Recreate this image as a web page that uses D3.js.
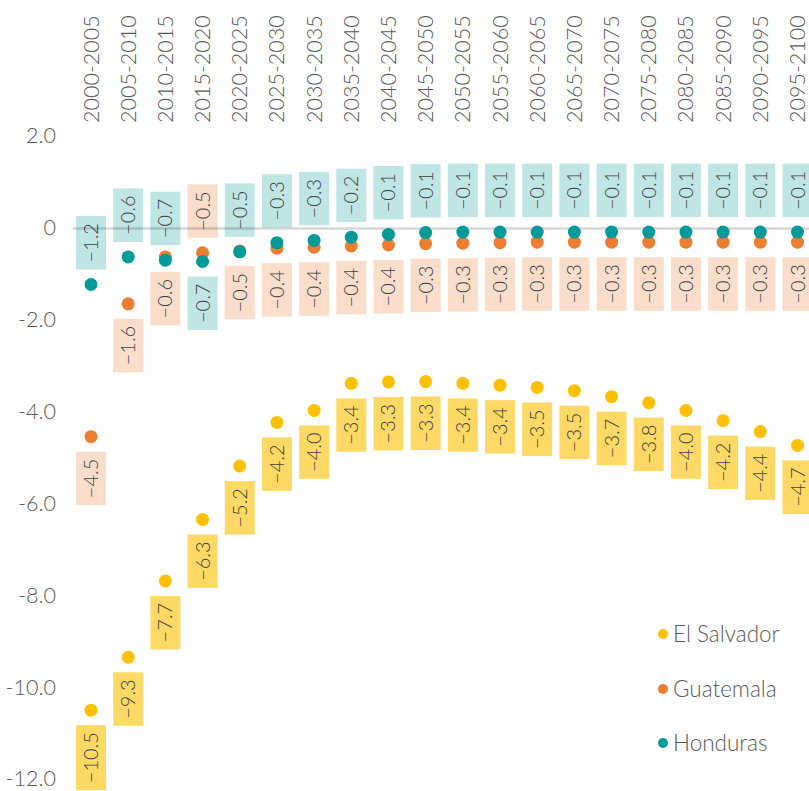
<!DOCTYPE html>
<html>
<head>
<meta charset="utf-8">
<script src="https://cdn.jsdelivr.net/npm/d3@7"></script>
<style>
  html, body { margin: 0; padding: 0; background: #fff; }
  svg { display: block; font-family: Lato, "Open Sans", sans-serif; }
</style>
</head>
<body>
<svg id="chart" width="809" height="791"></svg>
<script>
const categories = ["2000-2005","2005-2010","2010-2015","2015-2020","2020-2025","2025-2030","2030-2035","2035-2040","2040-2045","2045-2050","2050-2055","2055-2060","2060-2065","2065-2070","2070-2075","2075-2080","2080-2085","2085-2090","2090-2095","2095-2100"];
const elSalvador = [-10.48,-9.33,-7.67,-6.33,-5.17,-4.22,-3.96,-3.37,-3.34,-3.33,-3.37,-3.41,-3.46,-3.53,-3.66,-3.79,-3.96,-4.18,-4.42,-4.72];
const guatemala  = [-4.53,-1.64,-0.62,-0.53,-0.49,-0.43,-0.41,-0.38,-0.36,-0.33,-0.32,-0.31,-0.30,-0.30,-0.30,-0.30,-0.30,-0.30,-0.30,-0.30];
const honduras   = [-1.22,-0.62,-0.69,-0.72,-0.51,-0.31,-0.26,-0.19,-0.13,-0.09,-0.08,-0.08,-0.08,-0.08,-0.08,-0.08,-0.08,-0.08,-0.08,-0.08];
const seriesNames = ["El Salvador","Guatemala","Honduras"];
const yTickValues = [2, 0, -2, -4, -6, -8, -10, -12];
const yTickLabels = ["2.0","0","-2.0","-4.0","-6.0","-8.0","-10.0","-12.0"];

const dotColors = {"El Salvador":"#ffc000","Guatemala":"#ed7d31","Honduras":"#009a99"};
const boxColors = {"El Salvador":"#ffd966","Guatemala":"#fadecb","Honduras":"#bfe6e5"};

const svg = d3.select("#chart");
const x = d3.scalePoint().domain(categories).range([91, 797.5]);
const y = d3.scaleLinear().domain([-12, 2]).range([780, 136.5]);

// y tick labels
svg.append("g").selectAll("text").data(yTickValues).join("text")
  .attr("x", 56).attr("y", d => y(d)).attr("dy", "0.3em")
  .attr("text-anchor", "end").attr("fill", "#595959")
  .attr("font-size", 21.5).attr("font-weight", 300)
  .text((d, i) => yTickLabels[i]);

// category labels (rotated)
svg.append("g").selectAll("text").data(categories).join("text")
  .attr("transform", d => `translate(${x(d)},123) rotate(-90)`)
  .attr("dy", "0.35em").attr("text-anchor", "start")
  .attr("fill", "#595959").attr("font-size", 21.5).attr("font-weight", 300)
  .text(d => d);

const series = [
  {name: "El Salvador", values: elSalvador},
  {name: "Guatemala", values: guatemala},
  {name: "Honduras", values: honduras}
];

// label side rule: Honduras above, others below; swap Honduras/Guatemala where Guatemala clearly higher
function side(name, i) {
  const swap = guatemala[i] - honduras[i] > 0.1;
  if (name === "Honduras") return swap ? "below" : "above";
  if (name === "Guatemala") return swap ? "above" : "below";
  return "below";
}

const fmt = d3.format(".1f");
const labelsG = svg.append("g");
const gap = 15, pad = 7, boxW = 30;
series.forEach(s => {
  s.values.forEach((v, i) => {
    const cx = x(categories[i]), cy = y(v);
    const g = labelsG.append("g");
    const rect = g.append("rect");
    const t = g.append("text")
      .attr("dy", "0.35em").attr("text-anchor", "start")
      .attr("fill", "#404040").attr("font-size", 20).attr("font-weight", 300)
      .text(fmt(v));
    const len = t.node().getComputedTextLength();
    const h = len + 2 * pad;
    const top = side(s.name, i) === "above" ? cy - gap - h : cy + gap;
    rect.attr("x", cx - boxW / 2).attr("y", top).attr("width", boxW).attr("height", h)
      .attr("fill", boxColors[s.name]);
    t.attr("transform", `translate(${cx},${top + h - pad}) rotate(-90)`);
  });
});

// zero line
svg.append("line")
  .attr("x1", 73).attr("x2", 809).attr("y1", y(0)).attr("y2", y(0))
  .attr("stroke", "rgba(0,0,0,0.16)").attr("stroke-width", 2.5);

// dots
series.forEach(s => {
  svg.append("g").selectAll("circle").data(s.values).join("circle")
    .attr("cx", (d, i) => x(categories[i])).attr("cy", d => y(d)).attr("r", 6.5)
    .attr("fill", dotColors[s.name]);
});

// legend
const legendY = [634, 689, 743];
const lg = svg.append("g").selectAll("g").data(seriesNames).join("g")
  .attr("transform", (d, i) => `translate(663,${legendY[i]})`);
lg.append("circle").attr("r", 5).attr("fill", d => dotColors[d]);
lg.append("text").attr("x", 10).attr("dy", "0.35em")
  .attr("fill", "#595959").attr("font-size", 22.5).attr("font-weight", 300)
  .text(d => d);
</script>
</body>
</html>
